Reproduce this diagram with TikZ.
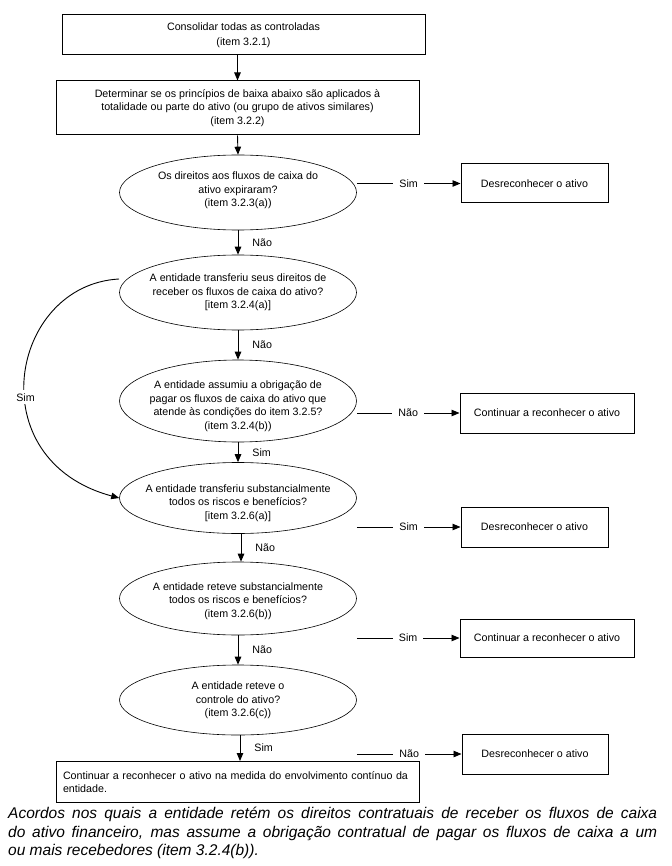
\documentclass[tikz,border=0pt]{standalone}
\usepackage{fontspec}
\setmainfont{Liberation Sans}
\usetikzlibrary{shapes.geometric,arrows.meta}
\tikzset{
  every node/.style={font=\fontsize{10.7pt}{13.5pt}\selectfont},
  box/.style={draw, line width=1pt, rectangle, inner sep=0pt, align=center},
  ell/.style={draw, line width=0.6pt, ellipse, inner sep=0pt, minimum width=237pt},
  etext/.style={align=center, inner sep=0pt},
  arr/.style={line width=0.9pt, -{Triangle[length=8pt,width=6.5pt]}},
  lab/.style={fill=white, inner xsep=6pt, inner ysep=1pt},
  vlab/.style={anchor=west, inner sep=0pt, xshift=14pt}
}
\begin{document}
\begin{tikzpicture}[x=1pt,y=-1pt]
\useasboundingbox (0,0) rectangle (671,866);
% boxes
\node[box, minimum width=363pt, minimum height=40pt] (b1) at (243.5,35) {Consolidar todas as controladas\\[1.5pt](item 3.2.1)};
\node[box, minimum width=363pt, minimum height=54pt] (b2) at (237.5,108) {Determinar se os princípios de baixa abaixo são aplicados à\\totalidade ou parte do ativo (ou grupo de ativos similares)\\(item 3.2.2)};
% ellipses
\node[ell, minimum height=75pt] (e1) at (238,192.5) {};
\node[etext] (t1) at (238,190.5) {Os direitos aos fluxos de caixa do\\ativo expiraram?\\(item 3.2.3(a))};
\node[ell, minimum height=75pt] (e2) at (238,292.5) {};
\node[etext] (t2) at (238,292.5) {A entidade transferiu seus direitos de\\receber os fluxos de caixa do ativo?\\{[item 3.2.4(a)]}};
\node[ell, minimum height=82pt] (e3) at (238,401) {};
\node[etext] (t3) at (238,406) {A entidade assumiu a obrigação de\\pagar os fluxos de caixa do ativo que\\atende às condições do item 3.2.5?\\(item 3.2.4(b))};
\node[ell, minimum height=71pt] (e4) at (238,498) {};
\node[etext] (t4) at (238,503) {A entidade transferiu substancialmente\\todos os riscos e benefícios?\\{[item 3.2.6(a)]}};
\node[ell, minimum height=73pt] (e5) at (238,598.5) {};
\node[etext] (t5) at (238,601) {A entidade reteve substancialmente\\todos os riscos e benefícios?\\(item 3.2.6(b))};
\node[ell, minimum height=70pt] (e6) at (238,700) {};
\node[etext] (t6) at (238,700.5) {A entidade reteve o\\controle do ativo?\\(item 3.2.6(c))};
% right boxes
\node[box, minimum width=147pt, minimum height=39pt] (d1) at (534.5,183.5) {Desreconhecer o ativo};
\node[box, minimum width=174pt, minimum height=40pt] (c1) at (547,413) {Continuar a reconhecer o ativo};
\node[box, minimum width=147pt, minimum height=40pt] (d2) at (534.5,527) {Desreconhecer o ativo};
\node[box, minimum width=174pt, minimum height=38pt] (c2) at (547,638) {Continuar a reconhecer o ativo};
\node[box, minimum width=146pt, minimum height=40pt] (d3) at (535,754) {Desreconhecer o ativo};
% final box
\node[box, minimum width=363pt, minimum height=41pt, align=left, text width=349pt, inner xsep=7pt, anchor=north] (fb) at (237.5,761) {Continuar a reconhecer o ativo na medida do envolvimento contínuo da\\entidade.};
% caption
\node[anchor=north west, inner sep=0pt, text width=649pt, align=justify, font=\fontsize{15.5pt}{18.5pt}\selectfont\itshape] (cap) at (8,807) {Acordos nos quais a entidade retém os direitos contratuais de receber os fluxos de caixa\linebreak do ativo financeiro, mas assume a obrigação contratual de pagar os fluxos de caixa a um\linebreak ou mais recebedores (item 3.2.4(b)).};
% vertical connectors
\draw[arr] (b2.north |- b1.south) -- (b2.north);
\draw[arr] (b2.south) -- (e1.north);
\draw[arr] (e1.south) -- node[vlab]{Não} (e2.north);
\draw[arr] (e2.south) -- node[vlab]{Não} (e3.north);
\draw[arr] (e3.south) -- node[vlab]{Sim} (e4.north);
\draw[arr] ([xshift=3pt]e4.south) -- node[vlab]{Não} ([xshift=3pt]e5.north);
\draw[arr] (e5.south) -- node[vlab]{Não} (e6.north);
\draw[arr] ([xshift=2pt]e6.south) -- node[vlab]{Sim} ([xshift=2pt]e6.south |- fb.north);
% horizontal connectors
\draw[arr] (e1.east |- d1.west) -- node[lab]{Sim} (d1.west);
\draw[arr] (e3.east |- c1.west) -- node[lab]{Não} (c1.west);
\draw[arr] (e4.east |- d2.west) -- node[lab]{Sim} (d2.west);
\draw[arr] (e5.east |- c2.west) -- node[lab]{Sim} (c2.west);
\draw[arr] (e6.east |- d3.west) -- node[lab]{Não} (d3.west);
% curved Sim connector
\coordinate (cs) at (119,279);
\draw[arr] (cs) .. controls (10,285) and (-22,460) .. node[pos=0.57, fill=white, inner xsep=1pt, inner ysep=3pt]{Sim} (e4.west);
\end{tikzpicture}
\end{document}
